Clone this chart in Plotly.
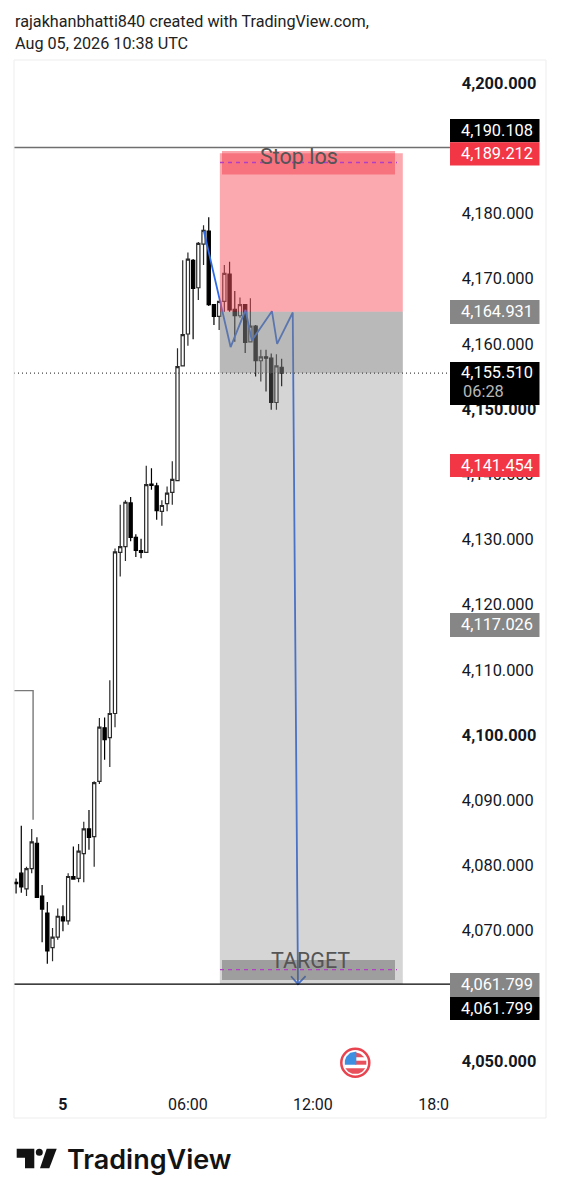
import pandas as pd
import plotly.graph_objects as go

FONT = "Roboto"
times = pd.date_range("2026-08-04 21:45", periods=52, freq="15min")
opens = [4077.4,4078.8,4076.4,4079.5,4083.4,4075.3,4072.7,4067.4,4069.0,4072.1,4071.5,4078.3,4078.0,4081.8,4085.6,4084.4,
         4092.9,4101.1,4099.6,4103.3,4128.0,4128.9,4135.6,4130.3,4128.3,4128.0,4138.5,4138.2,4134.3,4135.5,4137.2,4139.0,
         4156.6,4161.5,4172.8,4168.6,4175.3,4177.3,4166.0,4164.2,4166.5,4170.7,4165.3,4164.3,4166.0,4160.3,4162.7,4157.4,
         4158.0,4157.8,4151.0,4156.4]
highs = [4078.0,4086.1,4079.8,4085.6,4084.3,4077.0,4074.4,4070.4,4073.4,4073.9,4078.8,4082.9,4083.3,4086.7,4088.5,4092.9,
         4102.6,4102.7,4108.4,4128.6,4135.3,4136.0,4136.5,4130.8,4130.1,4141.3,4140.9,4138.7,4136.0,4138.1,4142.0,4159.3,
         4172.8,4174.0,4173.0,4175.6,4178.2,4179.4,4166.0,4166.5,4172.1,4172.6,4168.1,4167.1,4166.1,4167.0,4162.9,4159.1,
         4159.1,4158.5,4158.4,4157.7]
lows = [4075.7,4075.8,4075.3,4078.8,4075.1,4068.2,4064.9,4065.3,4068.6,4069.9,4070.9,4077.8,4077.4,4077.4,4082.4,4079.8,
        4092.5,4096.2,4095.1,4101.2,4124.3,4126.7,4129.7,4127.3,4127.1,4128.0,4137.6,4133.0,4132.1,4134.3,4135.3,4139.0,
        4156.6,4159.7,4160.7,4166.7,4172.1,4165.8,4162.9,4162.1,4164.9,4164.9,4160.3,4164.0,4158.6,4160.2,4155.0,4154.2,
        4152.7,4149.9,4149.9,4153.5]
closes = [4077.2,4076.7,4079.5,4083.6,4075.1,4073.3,4066.9,4069.0,4072.2,4071.5,4078.3,4077.9,4082.2,4085.6,4084.3,4092.7,
          4101.2,4099.3,4103.3,4128.1,4128.9,4135.7,4130.3,4128.3,4128.0,4138.4,4138.3,4134.4,4135.2,4137.1,4139.2,4156.5,
          4161.4,4173.0,4168.5,4175.4,4177.4,4166.0,4164.2,4166.5,4170.8,4165.2,4164.3,4166.0,4160.2,4162.7,4157.4,4158.0,
          4157.8,4151.0,4156.6,4155.51]

y_ticks = [4050,4060,4070,4080,4090,4100,4110,4120,4130,4140,4150,4160,4170,4180,4190,4200]
y_labels = ["<b>4,050.000</b>","","4,070.000","4,080.000","4,090.000","<b>4,100.000</b>","4,110.000","4,120.000",
            "4,130.000","4,140.000","<b>4,150.000</b>","4,160.000","4,170.000","4,180.000","","<b>4,200.000</b>"]
x_ticks = ["2026-08-05 00:00","2026-08-05 06:00","2026-08-05 12:00","2026-08-05 17:48"]
x_labels = ["<b>5</b>","06:00","12:00","18:0"]

plan_times = ["2026-08-05 06:46","2026-08-05 08:03","2026-08-05 08:46","2026-08-05 09:04","2026-08-05 10:02",
              "2026-08-05 10:17","2026-08-05 11:02","2026-08-05 11:17"]
plan_prices = [4177.3,4159.5,4165.2,4160.5,4165.0,4160.0,4164.8,4061.8]
arrow_times = ["2026-08-05 10:57","2026-08-05 11:17","2026-08-05 11:39"]
arrow_prices = [4063.0,4061.8,4063.0]
old_times = ["2026-08-04 21:38","2026-08-04 22:34","2026-08-04 22:34"]
old_prices = [4106.8,4106.8,4087.0]

zone_start, zone_end = "2026-08-05 07:32", "2026-08-05 16:19"
stop, entry, target, last = 4189.212, 4164.931, 4061.799, 4155.51
high_line = 4190.108

W, H = 561, 1200
L, R, T, B = 14, 450, 60, 1085
X_RANGE = ["2026-08-04 21:39", "2026-08-05 18:35"]
Y_TOP = 4200 + (83 - T) / 6.52
Y_BOT = 4200 - (B - 83) / 6.52
TICK_SIZE = 16.4

def px(x):
    return (x - L) / (R - L)

def py(y):
    return (B - y) / (B - T)

fig = go.Figure()
fig.add_trace(go.Candlestick(x=times, open=opens, high=highs, low=lows, close=closes,
    increasing=dict(fillcolor="#ffffff", line=dict(color="#2a2a2a", width=1.2)),
    decreasing=dict(fillcolor="#000000", line=dict(color="#000000", width=1.2)),
    whiskerwidth=0, hoverinfo="skip", showlegend=False))
fig.add_trace(go.Scatter(x=old_times, y=old_prices, mode="lines", line=dict(color="#787878", width=1.4),
                         hoverinfo="skip", showlegend=False))

shapes, notes = [], []

def zone(y0, y1, color):
    shapes.append(dict(type="rect", xref="x", yref="y", x0=zone_start, x1=zone_end, y0=y0, y1=y1,
                       fillcolor=color, line_width=0, layer="above"))

zone(entry, stop, "rgba(247,82,95,0.5)")
zone(target, entry, "rgba(128,128,128,0.33)")
zone(last, entry, "rgba(128,128,128,0.33)")

def pix_rect(x0, y0, x1, y1, fill, line=None, lw=0):
    shapes.append(dict(type="rect", xref="paper", yref="paper", x0=px(x0), x1=px(x1), y0=py(y1), y1=py(y0),
                       fillcolor=fill, line=dict(color=line or fill, width=lw), layer="above"))

def pix_path(d, fill):
    shapes.append(dict(type="path", xref="paper", yref="paper", path=d, fillcolor=fill, line_width=0, layer="above"))

def poly(points):
    return "M " + " L ".join(f"{px(a):.5f},{py(b):.5f}" for a, b in points) + " Z"

# inner note rectangles
pix_rect(222, 151, 395, 174.5, "rgba(242,54,69,0.45)")
pix_rect(222, 960, 395, 980, "rgba(90,90,90,0.45)")
for yy in (162.5, 969.7):
    shapes.append(dict(type="line", xref="paper", yref="paper", x0=px(220), x1=px(397), y0=py(yy), y1=py(yy),
                       line=dict(color="#b03fc4", width=1.3, dash="4px,4px"), layer="above"))

# horizontal price lines
for price, col, dash, w in ((high_line, "#6f6f6f", "solid", 1.4), (target, "#000000", "solid", 1.3), (last, "#444444", "1px,3px", 1.2)):
    shapes.append(dict(type="line", xref="paper", yref="y", x0=0, x1=1, y0=price, y1=price,
                       line=dict(color=col, width=w, dash=dash), layer="above"))

# pane frame
pix_rect(14, 60, 546, 1118, "rgba(0,0,0,0)", "#ededed", 1)

def text(x, y, s, size=16.4, color="#131722", anchor="right", weight=None):
    notes.append(dict(xref="paper", yref="paper", x=px(x), y=py(y), text=s, showarrow=False, xanchor=anchor,
                      yanchor="middle", font=dict(family=FONT, size=size, color=color, weight=weight), borderpad=0))

# price tags
tags = [(119, 142.3, "#000000", "4,190.108"), (142.3, 165.5, "#f23645", "4,189.212"),
        (300, 324, "#868686", "4,164.931"), (454, 477, "#f23645", "4,141.454"),
        (613, 637, "#868686", "4,117.026"), (973, 997, "#868686", "4,061.799"),
        (997, 1020, "#000000", "4,061.799")]
pix_rect(450, 362, 539.5, 405, "#000000")
for y0, y1, c, t in tags:
    pix_rect(450, y0, 539.5, y1, c)
    text(533.5, (y0 + y1) / 2 - 0.5, t, color="#ffffff")
text(533.5, 372.5, "4,155.510", color="#ffffff")
text(505, 391.5, "06:28", color="#b8b8b8")

text(299, 157, "Stop los", size=21.5, color="#555555", anchor="center")
text(310, 960, "TARGET", size=21.5, color="#555555", anchor="center")

# header
text(13.5, 22, "rajakhanbhatti840 created with TradingView.com,", size=16.2, color="#222222", anchor="left")
text(13.5, 44, "Aug 05, 2026 10:38 UTC", size=16.2, color="#222222", anchor="left")

# logo
pix_path(poly([(16.7,1148.7),(34.3,1148.7),(34.3,1168.3),(25,1168.3),(25,1157.7),(16.7,1157.7)]), "#131313")
pix_path(poly([(46.7,1148.7),(56.7,1148.7),(49.3,1168.3),(40,1168.3)]), "#131313")
shapes.append(dict(type="circle", xref="paper", yref="paper", x0=px(35.8), x1=px(42.8), y0=py(1155.8), y1=py(1148.8),
                   fillcolor="#131313", line_width=0, layer="above"))
text(66, 1159, "TradingView", size=27, color="#131313", anchor="left", weight=600)
notes[-1]["font"]["family"] = "Inter"

# flag badge
cx, cy = 355.3, 1062.7
shapes.append(dict(type="circle", xref="paper", yref="paper", x0=px(cx-14), x1=px(cx+14), y0=py(cy+14), y1=py(cy-14),
                   fillcolor="#ffffff", line=dict(color="#e8434f", width=2.5), layer="above"))
pix_path(poly([(cx,cy-10.5),(cx+5,cy-9),(cx+9,cy-5.5),(cx,cy-5.5)]), "#e8505b")
pix_path(poly([(cx,cy-2),(cx+11,cy-2),(cx+11,cy+2),(cx,cy+2)]), "#e8505b")
pix_path(poly([(cx-10,cy+5.5),(cx+10,cy+5.5),(cx+7,cy+9),(cx+3,cy+11),(cx-3,cy+11),(cx-7,cy+9)]), "#e8505b")
pix_path(poly([(cx-10.5,cy-2),(cx-9,cy-6),(cx-5,cy-10),(cx,cy-11),(cx+1,cy-11),(cx+1,cy+2),(cx-10.5,cy+2)]), "#3f8fe0")

fig.update_layout(
    width=W, height=H, autosize=False, paper_bgcolor="#ffffff", plot_bgcolor="#ffffff",
    margin=dict(l=L, r=W - R, t=T, b=H - B), showlegend=False, shapes=shapes, annotations=notes,
    boxgap=0.12,
    font=dict(family=FONT, size=16, color="#131722"),
    xaxis=dict(range=X_RANGE, type="date", rangeslider=dict(visible=False), showgrid=False, zeroline=False,
               showline=False, tickmode="array", tickvals=x_ticks, ticktext=x_labels, ticks="outside",
               ticklen=5, tickcolor="rgba(0,0,0,0)", tickfont=dict(family=FONT, size=16, color="#131722")),
    yaxis=dict(range=[Y_BOT, Y_TOP], side="right", showgrid=False, zeroline=False, showline=False,
               tickmode="array", tickvals=y_ticks, ticktext=y_labels, ticks="outside", ticklen=7.5,
               tickcolor="rgba(0,0,0,0)", tickfont=dict(family=FONT, size=TICK_SIZE, color="#131722")),
)

fig.add_trace(go.Scatter(x=plan_times, y=plan_prices, mode="lines", line=dict(color="#2f6be8", width=1.8),
                         hoverinfo="skip", showlegend=False))
fig.add_trace(go.Scatter(x=arrow_times, y=arrow_prices, mode="lines", line=dict(color="#2f6be8", width=1.8),
                         hoverinfo="skip", showlegend=False))

fig.write_html("out.html", config=dict(displayModeBar=False),
               post_script="document.body.style.margin='0';")
